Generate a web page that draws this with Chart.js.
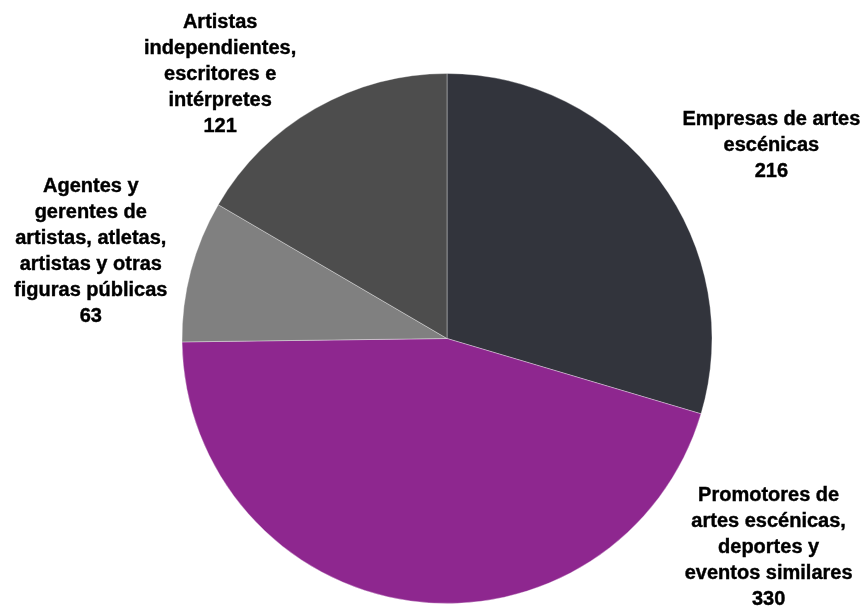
<!DOCTYPE html>
<html>
<head>
<meta charset="utf-8">
<script src="https://cdn.jsdelivr.net/npm/chart.js@4"></script>
<style>
  html, body { margin: 0; padding: 0; background: #fff; }
  #wrap { width: 866px; height: 606px; position: relative; }
</style>
</head>
<body>
<div id="wrap"><canvas id="pie"></canvas></div>
<script>
  // datos
  const categories = [
    ['Empresas de artes', 'escénicas'],
    ['Promotores de', 'artes escénicas,', 'deportes y', 'eventos similares'],
    ['Agentes y', 'gerentes de', 'artistas, atletas,', 'artistas y otras', 'figuras públicas'],
    ['Artistas', 'independientes,', 'escritores e', 'intérpretes']
  ];
  const values = [216, 330, 63, 121];
  const colors = ['#32343c', '#8e278f', '#808080', '#4d4d4d'];

  // desplazamiento de cada etiqueta desde el punto medio del arco (px)
  const labelOffsets = [[112, -34], [358, -54], [-100, -19], [-95, -34]];

  const outsideLabels = {
    id: 'outsideLabels',
    afterDatasetsDraw(chart) {
      const ctx = chart.ctx;
      const meta = chart.getDatasetMeta(0);
      ctx.save();
      ctx.font = 'bold 20px "Liberation Sans", Arial, sans-serif';
      ctx.fillStyle = '#000';
      ctx.strokeStyle = '#000';
      ctx.lineWidth = 0.4;
      ctx.textAlign = 'center';
      ctx.textBaseline = 'middle';
      const lh = 26;
      meta.data.forEach((arc, i) => {
        const p = arc.getProps(['x', 'y', 'startAngle', 'endAngle', 'outerRadius'], true);
        const mid = (p.startAngle + p.endAngle) / 2;
        const ax = p.x + Math.cos(mid) * p.outerRadius + labelOffsets[i][0];
        const ay = p.y + Math.sin(mid) * p.outerRadius + labelOffsets[i][1];
        const lines = categories[i].concat([String(values[i])]);
        const top = ay - (lines.length - 1) * lh / 2;
        lines.forEach((t, j) => {
          ctx.fillText(t, ax, top + j * lh);
          ctx.strokeText(t, ax, top + j * lh);
        });
      });
      ctx.restore();
    }
  };

  new Chart(document.getElementById('pie'), {
    type: 'pie',
    data: {
      labels: categories,
      datasets: [{
        data: values,
        backgroundColor: colors,
        borderColor: 'rgba(255,255,255,0.35)',
        borderWidth: 1
      }]
    },
    options: {
      responsive: true,
      maintainAspectRatio: false,
      animation: false,
      events: [],
      layout: { padding: { top: 73, bottom: 2, left: 28, right: 0 } },
      plugins: { legend: { display: false }, tooltip: { enabled: false } }
    },
    plugins: [outsideLabels]
  });
</script>
</body>
</html>
